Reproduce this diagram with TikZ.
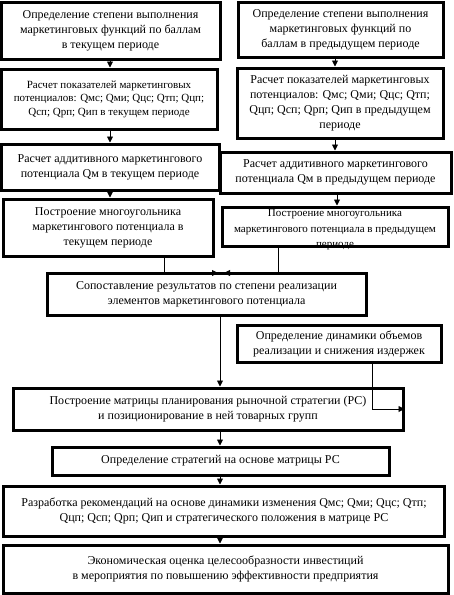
\documentclass[tikz,border=0pt]{standalone}
\usepackage{fontspec}
\setmainfont{Liberation Serif}
\usetikzlibrary{arrows.meta, calc}

\begin{document}
\begin{tikzpicture}[x=1pt, y=-1pt,
        box/.style={draw, line width=3pt, align=center, inner sep=1pt, font=\fontsize{12}{15}\selectfont},
        small/.style={font=\fontsize{11}{13.5}\selectfont},
        arr/.style={line width=0.9pt, -{Triangle[width=6pt, length=6pt]}}]
    \useasboundingbox (0,0) rectangle (453,595);
    \coordinate (lc) at (110,0); \coordinate (rc) at (335,0); \coordinate (mc) at (220,0);
    % current period
    \node[box, minimum width=219pt, minimum height=57pt] (L1) at (110.5,30.5) {Определение степени выполнения\\маркетинговых функций по баллам\\в текущем периоде};
    \node[box, small, minimum width=216pt, minimum height=60pt] (L2) at (109,99) {Расчет показателей маркетинговых\\потенциалов: Qмс; Qми; Qцс; Qтп; Qцп;\\Qсп; Qрп; Qип в текущем периоде};
    \node[box, minimum width=218pt, minimum height=46pt] (L3) at (110,167) {Расчет аддитивного маркетингового\\потенциала Qм в текущем периоде};
    \node[box, minimum width=210pt, minimum height=57pt] (L4) at (108,227.5) {Построение многоугольника\\маркетингового потенциала в\\текущем периоде};
    % previous period
    \node[box, minimum width=205pt, minimum height=55pt] (R1) at (340.5,29.5) {Определение степени выполнения\\маркетинговых функций по\\баллам в предыдущем периоде};
    \node[box, minimum width=206pt, minimum height=70pt] (R2) at (340,103) {Расчет показателей маркетинговых\\потенциалов: Qмс; Qми; Qцс; Qтп;\\Qцп; Qсп; Qрп; Qип в предыдущем\\периоде};
    \node[box, minimum width=231pt, minimum height=41pt] (R3) at (335.5,172.5) {Расчет аддитивного маркетингового\\потенциала Qм в предыдущем периоде};
    \node[box, font=\fontsize{11}{15.5}\selectfont, minimum width=226pt, minimum height=39pt] (R4) at (335,226.5) {\parbox[c][34pt][t]{222pt}{\centering Построение многоугольника\\маркетингового потенциала в предыдущем\\периоде}};
    % common part
    \node[box, minimum width=319pt, minimum height=42pt] (C) at (206.5,294) {Сопоставление результатов по степени реализации\\элементов маркетингового потенциала};
    \node[box, minimum width=204pt, minimum height=37pt] (D) at (339,343.5) {Определение динамики объемов\\реализации и снижения издержек};
    \node[box, minimum width=390pt, minimum height=42pt] (M) at (208,409) {Построение матрицы планирования рыночной стратегии (РС)\\и позиционирование в ней товарных групп};
    \node[box, minimum width=337pt, minimum height=28pt] (S) at (220.5,461) {Определение стратегий на основе матрицы РС};
    \node[box, minimum width=441pt, minimum height=50pt] (R) at (224,511) {Разработка рекомендаций на основе динамики изменения Qмс; Qми; Qцс; Qтп;\\Qцп; Qсп; Qрп; Qип и стратегического положения в матрице РС};
    \node[box, minimum width=445pt, minimum height=48pt] (E) at (225.5,569) {Экономическая оценка целесообразности инвестиций\\в мероприятия по повышению эффективности предприятия};
    % connectors
    \draw[arr] (L1.south -| lc) -- (L2.north -| lc);
    \draw[arr] (L2.south -| lc) -- (L3.north -| lc);
    \draw[arr] (L3.south -| lc) -- (L4.north -| lc);
    \draw[arr] (R1.south -| rc) -- (R2.north -| rc);
    \draw[arr] (R2.south -| rc) -- (R3.north -| rc);
    \draw[arr] ($(R3.south -| rc)+(2,0)$) -- ($(R4.north -| rc)+(2,0)$);
    \coordinate (jl) at (164,273); \coordinate (tl) at (218,273);
    \coordinate (jr) at (278,273); \coordinate (tr) at (224,273);
    \draw[arr] (L4.south -| jl) -- (jl) -- (tl);
    \draw[arr] (R4.south -| jr) -- (jr) -- (tr);
    \draw[arr] (C.south -| mc) -- (M.north -| mc);
    \coordinate (jd) at (372,409);
    \draw[arr] (D.south -| jd) -- (jd) -- (M.east);
    \draw[arr] (M.south -| mc) -- (S.north -| mc);
    \draw[arr] (S.south -| mc) -- (R.north -| mc);
    \draw[arr] (R.south -| mc) -- (E.north -| mc);
\end{tikzpicture}
\end{document}
